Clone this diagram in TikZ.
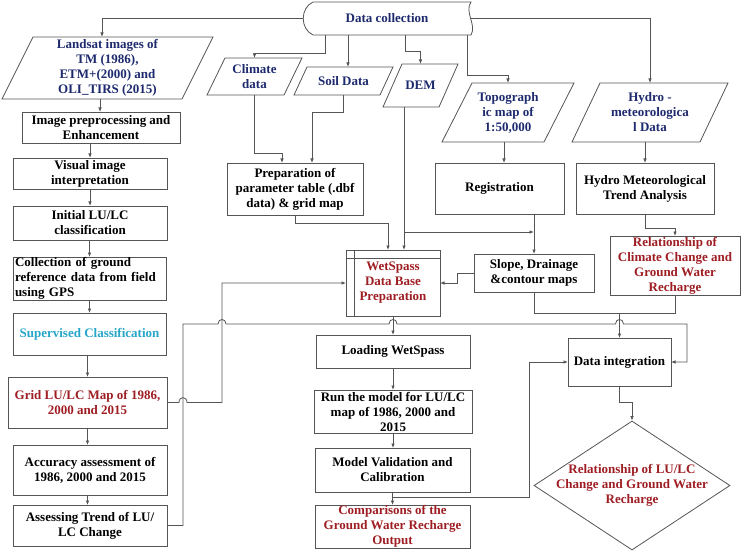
\documentclass[tikz,border=0pt]{standalone}
\usepackage{fontspec}
\setmainfont{Liberation Serif}
\usetikzlibrary{arrows.meta,shapes.geometric}
\definecolor{navy}{RGB}{30,42,110}
\definecolor{dred}{RGB}{158,30,36}
\definecolor{cyanx}{RGB}{38,166,200}
\definecolor{lgray}{RGB}{85,85,85}
\newcommand\drawpara[2]{\draw[edge] ([xshift=#2pt]#1.north west) -- (#1.north east) -- ([xshift=-#2pt]#1.south east) -- (#1.south west) -- cycle;}
\begin{document}
\begin{tikzpicture}[x=1pt,y=-1pt,
 edge/.style={draw=lgray,line width=0.8pt},
 arr/.style={edge,-{Latex[length=4.5pt,width=3.6pt]}},
 txt/.style={font=\fontsize{13}{15}\selectfont\bfseries},
 box/.style={txt,draw=lgray,line width=0.8pt,rectangle,inner xsep=1pt,inner ysep=0pt,outer sep=0pt,align=center},
 pnode/.style={txt,rectangle,inner xsep=1pt,inner ysep=0pt,outer sep=0pt,align=center,text=navy},
 sz/.style n args={2}{minimum width=#1pt,minimum height=#2pt}]
\useasboundingbox[fill=white] (0,0) rectangle (744,556);

% data collection
\node[pnode,sz={168}{33}] (dc) at (387,18.5) {Data collection};
\draw[edge] (313,2) -- (471,2) .. controls (464,12) and (477,25) .. (471,35) -- (313,35) .. controls (300,29) and (300,8) .. (313,2) -- cycle;

% input parallelograms
\node[pnode,sz={211}{62}] (land) at (107.5,68) {Landsat images of\\TM (1986),\\ETM+(2000) and\\OLI\_TIRS (2015)};
\drawpara{land}{31}
\node[pnode,sz={95}{37}] (clim) at (254.5,76.5) {Climate\\data};
\drawpara{clim}{18}
\node[pnode,sz={99}{28}] (soil) at (343.5,81) {Soil Data};
\drawpara{soil}{13}
\node[pnode,sz={75}{43}] (dem) at (420.5,85.5) {DEM};
\drawpara{dem}{19}
\node[pnode,sz={132}{59}] (topo) at (508,112.5) {Topograph\\ic map of\\1:50,000};
\drawpara{topo}{30}
\node[pnode,sz={156}{59}] (hyd) at (650,112.5) {Hydro -\\meteorologica\\l Data};
\drawpara{hyd}{28}

% left column
\node[box,sz={158}{31}] (img) at (101,127.5) {Image preprocessing and\\Enhancement};
\node[box,sz={154}{31}] (vis) at (90,173.5) {Visual image\\interpretation};
\node[box,sz={154}{34}] (ini) at (90,223) {Initial LU/LC\\classification};
\node[box,sz={153}{43},text width=149pt,align=left] (col) at (89.5,278.5) {Collection of ground\\reference data from field\\using GPS};
\node[box,sz={153}{42},text=cyanx] (sup) at (89.5,334) {Supervised Classification};
\node[box,sz={159}{51},text=dred] (grid) at (87.5,402.5) {Grid LU/LC Map of 1986,\\2000 and 2015};
\node[box,sz={154}{50}] (acc) at (90,470) {Accuracy assessment of\\1986, 2000 and 2015};
\node[box,sz={154}{41}] (ass) at (90,525.5) {Assessing Trend of LU/\\LC Change};

% middle / right boxes
\node[box,sz={136}{52}] (prep) at (295,189) {Preparation of\\parameter table (.dbf\\data) \& grid map};
\node[box,sz={129}{51}] (reg) at (499.5,188.5) {Registration};
\node[box,sz={138}{51}] (trend) at (645,188.5) {Hydro Meteorological\\Trend Analysis};
\node[box,sz={120}{38}] (slope) at (534,273) {Slope, Drainage\\\&contour maps};
\node[box,sz={130}{59},text=dred] (rcc) at (675,265.5) {Relationship of\\Climate Change and\\Ground Water\\Recharge};
\node[box,sz={94}{66},text=dred] (wet) at (393,283) {WetSpass\\Data Base\\Preparation};
\draw[edge] ([xshift=8pt]wet.north west) -- ([xshift=8pt]wet.south west);
\draw[edge] ([yshift=-8pt]wet.north west) -- ([yshift=-8pt]wet.north east);
\node[box,sz={154}{33}] (load) at (393,351.5) {Loading WetSpass};
\node[box,sz={158}{43}] (run) at (393,411.5) {Run the model for LU/LC\\map of 1986, 2000 and\\2015};
\node[box,sz={155}{44}] (mv) at (392.5,470) {Model Validation and\\Calibration};
\node[box,sz={155}{43},text=dred] (cmp) at (392.5,526.5) {Comparisons of the\\Ground Water Recharge\\Output};
\node[box,sz={103}{48}] (di) at (619.5,362) {Data integration};
\node[draw=lgray,line width=0.8pt,diamond,minimum width=196pt,minimum height=129pt,inner sep=0pt] (rlc) at (632,485.5) {};
\node[txt,text=dred,align=center] (rlct) at (rlc.center) {Relationship of LU/LC\\Change and Ground Water\\Recharge};

% connectors from data collection
\draw[arr] (dc.west) -| ([xshift=-5.5pt]land.north);
\draw[arr] ([xshift=-62pt]dc.south) -- ++(0,18) -| (clim.north);
\draw[arr] ([xshift=-39pt]dc.south) -- ([xshift=-39pt]dc.south |- soil.north);
\draw[arr] ([xshift=18pt]dc.south) -- ++(0,16) -| (dem.north);
\draw[arr] ([xshift=80pt]dc.south) -- ++(0,40) -| (topo.north);
\draw[arr] (dc.east) -| (hyd.north);

% left column
\draw[arr] ([xshift=-7.5pt]land.south) -- ([xshift=-7.5pt]land.south |- img.north);
\draw[arr] (vis.north |- img.south) -- (vis.north);
\draw[arr] (ini.north |- vis.south) -- (ini.north);
\draw[arr] (col.north |- ini.south) -- (col.north);
\draw[arr] (sup.north |- col.south) -- (sup.north);
\draw[arr] (grid.north |- sup.south) -- (grid.north);
\draw[arr] (grid.south) -- (grid.south |- acc.north);
\draw[arr] (grid.south |- acc.south) -- (grid.south |- ass.north);

% middle
\draw[arr] (clim.south) -- ++(0,58) -| ([xshift=-13pt]prep.north);
\draw[arr] (soil.south) -- ++(0,17) -| ([xshift=17pt]prep.north);
\draw[arr] (prep.south) -- ++(0,8) -| ([xshift=-5pt]wet.north);
\draw[arr] ([xshift=-16.5pt]dem.south) -- ([xshift=-16.5pt]dem.south |- wet.north);
\coordinate (demj) at (404,232);
\draw[arr] (demj) -- (demj -| slope.north);
\draw[arr] ([xshift=-4pt]topo.south) -- ([xshift=-4pt]topo.south |- reg.north);
\draw[arr] (slope.north |- reg.south) -- (slope.north);
\draw[arr] (trend.north |- hyd.south) -- (trend.north);
\draw[arr] (trend.south) -- ++(0,14) -| (rcc.north);
\draw[arr] (slope.west) -- ++(-17,0) |- (wet.east);
\draw[edge] (slope.south) -- ++(0,21) -| (rcc.south);
\coordinate (dij) at (di.north |- 0,313);
\draw[arr] (dij) -- (di.north);

\draw[arr] (wet.south) -- (load.north);
\draw[arr] (load.south) -- (run.north);
\draw[arr] (run.south) -- (run.south |- mv.north);
\draw[arr] (mv.south) -- (cmp.north);
\coordinate (cj) at (mv.south |- 0,497);
\draw[arr] (cj) -- (529,497) |- (di.west);

% long connectors with hops
\draw[arr] (grid.east) -- (179,402.5) .. controls (179,396) and (187,396) .. (187,402.5) -- (222,402.5) |- (wet.west);
\draw[arr] (ass.east) -- (183,525.5) -- (183,324) -- (218,324) .. controls (218,318) and (226,318) .. (226,324) -- (389,324) .. controls (389,318) and (397,318) .. (397,324) -- (615.5,324) .. controls (615.5,318) and (623.5,318) .. (623.5,324) -- (687,324) |- (di.east);

\draw[arr] (di.south) -- ++(0,16) -| (rlc.north);
\end{tikzpicture}
\end{document}
